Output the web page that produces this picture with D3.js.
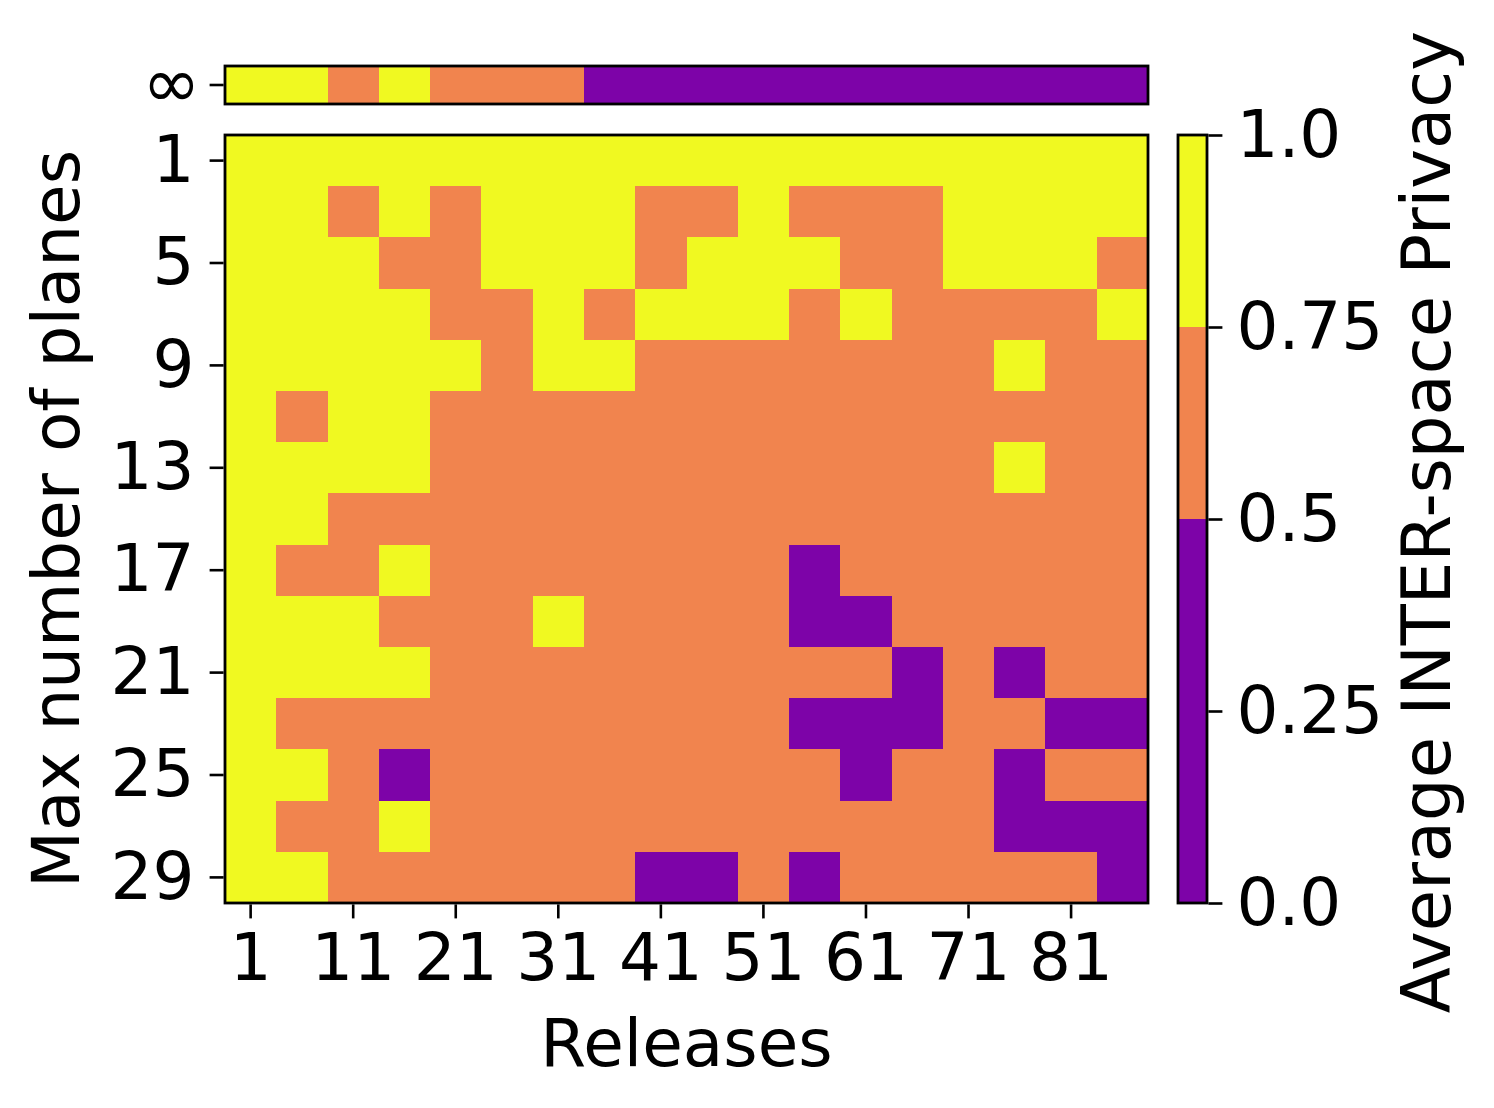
<!DOCTYPE html>
<html>
<head>
<meta charset="utf-8">
<script src="https://cdn.jsdelivr.net/npm/d3@7"></script>
<style>
  html, body { margin: 0; padding: 0; background: #fff; }
  svg { display: block; }
  text { font-family: "DejaVu Sans", sans-serif; fill: #000; }
</style>
</head>
<body>
<svg id="chart" width="1494" height="1108"></svg>
<script>
// ---- data ----
const releases = [1, 6, 11, 16, 21, 26, 31, 36, 41, 46, 51, 56, 61, 66, 71, 76, 81, 86];
const planes = [1, 3, 5, 7, 9, 11, 13, 15, 17, 19, 21, 23, 25, 27, 29];
const releaseTicks = [1, 11, 21, 31, 41, 51, 61, 71, 81];
const planeTicks = [1, 5, 9, 13, 17, 21, 25, 29];
const colorbarTicks = [0.0, 0.25, 0.5, 0.75, 1.0];
const colorbarTickLabels = ["0.0", "0.25", "0.5", "0.75", "1.0"];
const binEdges = [0.5, 0.75];
const binColors = ["#7d03a8", "#f1844e", "#f0f921"];

// average privacy per (planes row, release column), estimated from the binned colours
const privacy = [
  [0.85,0.85,0.85,0.85,0.85,0.85,0.85,0.85,0.85,0.85,0.85,0.85,0.85,0.85,0.85,0.85,0.85,0.85],
  [0.85,0.85,0.65,0.85,0.65,0.85,0.85,0.85,0.65,0.65,0.85,0.65,0.65,0.65,0.85,0.85,0.85,0.85],
  [0.85,0.85,0.85,0.65,0.65,0.85,0.85,0.85,0.65,0.85,0.85,0.85,0.65,0.65,0.85,0.85,0.85,0.65],
  [0.85,0.85,0.85,0.85,0.65,0.65,0.85,0.65,0.85,0.85,0.85,0.65,0.85,0.65,0.65,0.65,0.65,0.85],
  [0.85,0.85,0.85,0.85,0.85,0.65,0.85,0.85,0.65,0.65,0.65,0.65,0.65,0.65,0.65,0.85,0.65,0.65],
  [0.85,0.65,0.85,0.85,0.65,0.65,0.65,0.65,0.65,0.65,0.65,0.65,0.65,0.65,0.65,0.65,0.65,0.65],
  [0.85,0.85,0.85,0.85,0.65,0.65,0.65,0.65,0.65,0.65,0.65,0.65,0.65,0.65,0.65,0.85,0.65,0.65],
  [0.85,0.85,0.65,0.65,0.65,0.65,0.65,0.65,0.65,0.65,0.65,0.65,0.65,0.65,0.65,0.65,0.65,0.65],
  [0.85,0.65,0.65,0.85,0.65,0.65,0.65,0.65,0.65,0.65,0.65,0.35,0.65,0.65,0.65,0.65,0.65,0.65],
  [0.85,0.85,0.85,0.65,0.65,0.65,0.85,0.65,0.65,0.65,0.65,0.35,0.35,0.65,0.65,0.65,0.65,0.65],
  [0.85,0.85,0.85,0.85,0.65,0.65,0.65,0.65,0.65,0.65,0.65,0.65,0.65,0.35,0.65,0.35,0.65,0.65],
  [0.85,0.65,0.65,0.65,0.65,0.65,0.65,0.65,0.65,0.65,0.65,0.35,0.35,0.35,0.65,0.65,0.35,0.35],
  [0.85,0.85,0.65,0.35,0.65,0.65,0.65,0.65,0.65,0.65,0.65,0.65,0.35,0.65,0.65,0.35,0.65,0.65],
  [0.85,0.65,0.65,0.85,0.65,0.65,0.65,0.65,0.65,0.65,0.65,0.65,0.65,0.65,0.65,0.35,0.35,0.35],
  [0.85,0.85,0.65,0.65,0.65,0.65,0.65,0.65,0.35,0.35,0.65,0.35,0.65,0.65,0.65,0.65,0.65,0.35]
];
// unlimited planes (∞)
const privacyInf = [0.85,0.85,0.65,0.85,0.65,0.65,0.65,0.35,0.35,0.35,0.35,0.35,0.35,0.35,0.35,0.35,0.35,0.35];

const xLabel = "Releases";
const yLabel = "Max number of planes";
const cbLabel = "Average INTER-space Privacy";

(function () {
// ---- layout ----
const FS = 66;
const mLeft = 225, mRight = 1148, mTop = 135, mBottom = 903;
const stripTop = 66, stripBottom = 104;
const cbLeft = 1178, cbRight = 1207;
const tickLen = 14, tickW = 2.6, borderW = 2.8;

const svg = d3.select("#chart");
const color = d3.scaleThreshold().domain(binEdges).range(binColors);

const x = d3.scaleBand().domain(releases).range([mLeft, mRight]).padding(0);
const y = d3.scaleBand().domain(planes).range([mTop, mBottom]).padding(0);

// main heatmap cells
const cells = [];
privacy.forEach((row, i) => row.forEach((v, j) => cells.push({r: planes[i], c: releases[j], v})));
svg.append("g").selectAll("rect").data(cells).join("rect")
  .attr("x", d => x(d.c)).attr("y", d => y(d.r))
  .attr("width", x.bandwidth() + 0.5).attr("height", y.bandwidth() + 0.5)
  .attr("fill", d => color(d.v)).attr("shape-rendering", "crispEdges");

// ∞ strip
const yInf = d3.scaleBand().domain(["∞"]).range([stripTop, stripBottom]);
svg.append("g").selectAll("rect").data(privacyInf.map((v, j) => ({c: releases[j], v}))).join("rect")
  .attr("x", d => x(d.c)).attr("y", yInf("∞"))
  .attr("width", x.bandwidth() + 0.5).attr("height", yInf.bandwidth())
  .attr("fill", d => color(d.v)).attr("shape-rendering", "crispEdges");

// borders
svg.append("rect").attr("x", mLeft).attr("y", mTop).attr("width", mRight - mLeft).attr("height", mBottom - mTop)
  .attr("fill", "none").attr("stroke", "#000").attr("stroke-width", borderW);
svg.append("rect").attr("x", mLeft).attr("y", stripTop).attr("width", mRight - mLeft).attr("height", stripBottom - stripTop)
  .attr("fill", "none").attr("stroke", "#000").attr("stroke-width", borderW);

function styleAxis(g) {
  g.select(".domain").remove();
  g.selectAll(".tick line").attr("stroke", "#000").attr("stroke-width", tickW);
  g.selectAll(".tick text").attr("font-size", FS).attr("font-family", "DejaVu Sans, sans-serif").attr("fill", "#000");
}

// x axis
const xAxis = d3.axisBottom(x).tickValues(releaseTicks).tickSize(tickLen).tickPadding(15);
svg.append("g").attr("transform", `translate(0,${mBottom + borderW / 2})`).call(xAxis).call(styleAxis);

// y axis
const yAxis = d3.axisLeft(y).tickValues(planeTicks).tickSize(tickLen).tickPadding(15);
svg.append("g").attr("transform", `translate(${mLeft - borderW / 2},0)`).call(yAxis).call(styleAxis);

// ∞ axis
svg.append("g").attr("transform", `translate(${mLeft - borderW / 2},0)`)
  .call(d3.axisLeft(yInf).tickSize(tickLen).tickPadding(9)).call(styleAxis)
  .selectAll(".tick text").attr("font-size", 70);

// colorbar
const cbScale = d3.scaleLinear().domain([0, 1]).range([mBottom, mTop]);
const cbSegs = [[0, binEdges[0]], [binEdges[0], binEdges[1]], [binEdges[1], 1]];
svg.append("g").selectAll("rect").data(cbSegs).join("rect")
  .attr("x", cbLeft).attr("y", d => cbScale(d[1])).attr("width", cbRight - cbLeft)
  .attr("height", d => cbScale(d[0]) - cbScale(d[1]))
  .attr("fill", d => color((d[0] + d[1]) / 2)).attr("shape-rendering", "crispEdges");
svg.append("rect").attr("x", cbLeft).attr("y", mTop).attr("width", cbRight - cbLeft).attr("height", mBottom - mTop)
  .attr("fill", "none").attr("stroke", "#000").attr("stroke-width", borderW);
const cbAxis = d3.axisRight(cbScale).tickValues(colorbarTicks)
  .tickFormat((d, i) => colorbarTickLabels[i]).tickSize(tickLen).tickPadding(14);
svg.append("g").attr("transform", `translate(${cbRight + borderW / 2},0)`).call(cbAxis).call(styleAxis);

// axis titles
svg.append("text").attr("x", (mLeft + mRight) / 2).attr("y", 1066).attr("text-anchor", "middle")
  .attr("font-size", FS).text(xLabel);
svg.append("text").attr("transform", `translate(79,${(mTop + mBottom) / 2}) rotate(-90)`).attr("text-anchor", "middle")
  .attr("font-size", FS).text(yLabel);
svg.append("text").attr("transform", `translate(1450,522) rotate(-90)`).attr("text-anchor", "middle")
  .attr("font-size", 67.3).text(cbLabel);
})();
</script>
</body>
</html>
